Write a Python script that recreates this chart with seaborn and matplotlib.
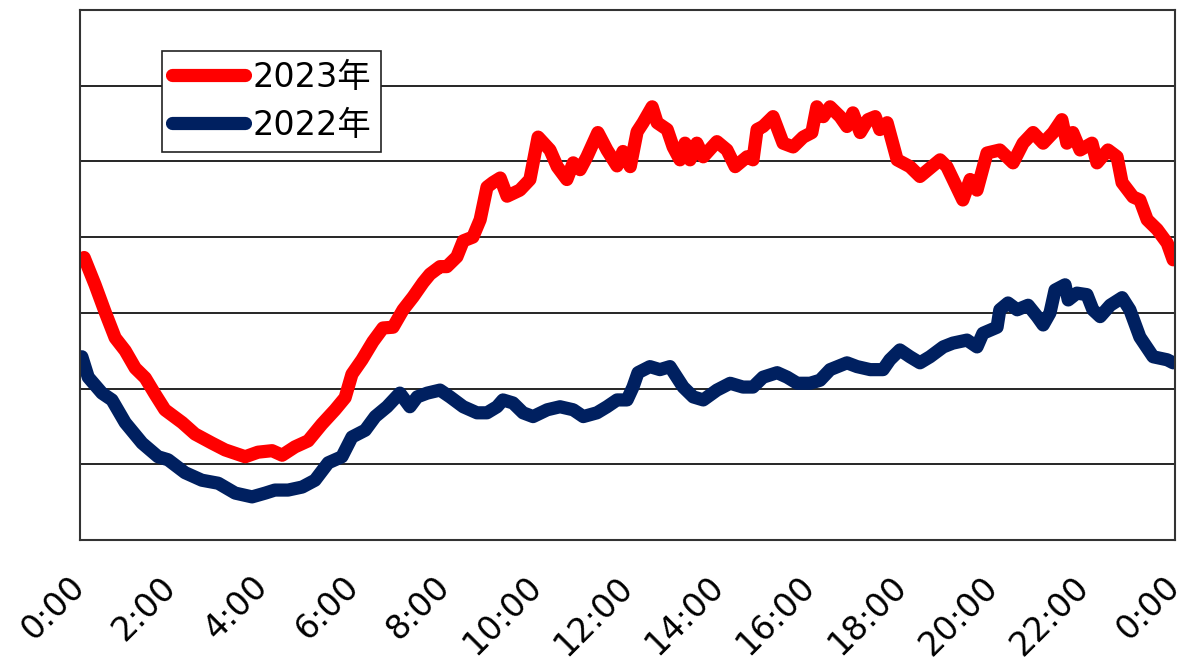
import pandas as pd
import numpy as np
import matplotlib
matplotlib.use('Agg')
import matplotlib.pyplot as plt
import seaborn as sns

# time of day in hours, values in grid units (gridlines every 1.0, no y labels in the source)
hours_2023 = [0.09, 0.33, 0.55, 0.77, 0.99, 1.21, 1.43, 1.64, 1.86, 2.24, 2.52, 2.89, 3.18, 3.62,
              3.90, 4.21, 4.43, 4.71, 5.00, 5.30, 5.59, 5.81, 5.96, 6.18, 6.42, 6.64, 6.86, 7.08,
              7.30, 7.52, 7.67, 7.89, 8.04, 8.26, 8.40, 8.61, 8.77, 8.92, 9.05, 9.21, 9.36, 9.64,
              9.86, 10.04, 10.30, 10.46, 10.67, 10.81, 10.96, 11.11, 11.35, 11.55, 11.77, 11.90,
              12.06, 12.21, 12.34, 12.54, 12.65, 12.87, 13.00, 13.15, 13.26, 13.37, 13.52, 13.66,
              13.96, 14.18, 14.36, 14.62, 14.75, 14.84, 14.97, 15.19, 15.41, 15.63, 15.85, 16.04,
              16.15, 16.29, 16.44, 16.66, 16.81, 16.94, 17.10, 17.27, 17.43, 17.53, 17.69, 17.91,
              18.19, 18.41, 18.85, 19.00, 19.35, 19.51, 19.66, 19.88, 20.16, 20.45, 20.67, 20.89,
              21.11, 21.33, 21.52, 21.63, 21.76, 21.92, 22.18, 22.29, 22.53, 22.73, 22.84, 23.08,
              23.23, 23.39, 23.61, 23.83, 23.96]
vals_2023 = [3.73, 3.37, 3.01, 2.67, 2.50, 2.27, 2.14, 1.93, 1.72, 1.55, 1.40, 1.28, 1.19, 1.10,
             1.16, 1.18, 1.12, 1.23, 1.31, 1.53, 1.72, 1.88, 2.19, 2.38, 2.62, 2.80, 2.81, 3.04,
             3.21, 3.40, 3.51, 3.61, 3.61, 3.74, 3.95, 4.00, 4.23, 4.66, 4.72, 4.78, 4.54, 4.62,
             4.76, 5.32, 5.15, 4.93, 4.76, 4.98, 4.89, 5.06, 5.38, 5.15, 4.94, 5.13,
             4.93, 5.39, 5.51, 5.72, 5.51, 5.42, 5.19, 5.02, 5.24, 5.02, 5.24, 5.06,
             5.26, 5.15, 4.93, 5.06, 5.02, 5.42, 5.46, 5.59, 5.24, 5.19, 5.32, 5.38,
             5.72, 5.59, 5.72, 5.59, 5.46, 5.64, 5.38, 5.55, 5.59, 5.42, 5.51, 5.02,
             4.93, 4.80, 5.02, 4.93, 4.49, 4.76, 4.62, 5.11, 5.15, 4.98, 5.24, 5.38,
             5.24, 5.38, 5.55, 5.24, 5.38, 5.15, 5.24, 4.98, 5.15, 5.06, 4.72, 4.53,
             4.49, 4.23, 4.10, 3.92, 3.70]

hours_2022 = [0.04, 0.18, 0.48, 0.70, 0.99, 1.36, 1.71, 1.93, 2.30, 2.67, 3.03, 3.40, 3.77, 4.06,
              4.27, 4.56, 4.87, 5.15, 5.44, 5.74, 5.96, 6.25, 6.47, 6.73, 7.01, 7.23, 7.39, 7.61,
              7.89, 8.11, 8.40, 8.70, 8.92, 9.14, 9.27, 9.49, 9.71, 9.93, 10.24, 10.52, 10.81,
              11.03, 11.33, 11.55, 11.77, 11.99, 12.12, 12.23, 12.49, 12.71, 12.93, 13.22, 13.44,
              13.66, 13.96, 14.25, 14.53, 14.75, 14.97, 15.28, 15.50, 15.72, 16.00, 16.22, 16.44,
              16.81, 17.03, 17.32, 17.60, 17.75, 17.97, 18.19, 18.41, 18.63, 18.92, 19.13, 19.44,
              19.66, 19.79, 20.10, 20.16, 20.34, 20.54, 20.78, 20.98, 21.11, 21.26, 21.37, 21.59,
              21.66, 21.85, 22.07, 22.20, 22.36, 22.58, 22.84, 23.01, 23.23, 23.52, 23.83, 23.96]
vals_2022 = [2.42, 2.15, 1.94, 1.85, 1.55, 1.28, 1.10, 1.06, 0.89, 0.79, 0.75, 0.62, 0.57, 0.62,
             0.66, 0.66, 0.70, 0.79, 1.02, 1.10, 1.36, 1.45, 1.63, 1.76, 1.94, 1.76, 1.89, 1.94,
             1.98, 1.89, 1.76, 1.68, 1.68, 1.76, 1.85, 1.81, 1.68, 1.63, 1.72, 1.76, 1.72,
             1.63, 1.68, 1.76, 1.85, 1.85, 2.02, 2.21, 2.29, 2.25, 2.29, 2.02, 1.89,
             1.85, 1.98, 2.07, 2.02, 2.02, 2.15, 2.21, 2.15, 2.07, 2.07, 2.11, 2.25,
             2.34, 2.29, 2.25, 2.25, 2.38, 2.51, 2.42, 2.34, 2.42, 2.55, 2.60, 2.64,
             2.55, 2.73, 2.81, 3.04, 3.13, 3.04, 3.10, 2.95, 2.84, 3.00, 3.30, 3.37,
             3.17, 3.26, 3.24, 3.04, 2.95, 3.10, 3.20, 3.04, 2.68, 2.42, 2.38, 2.34]

tick_hours = [0, 2, 4, 6, 8, 10, 12, 14, 16, 18, 20, 22, 24]
tick_labels = ['0:00', '2:00', '4:00', '6:00', '8:00', '10:00', '12:00', '14:00',
               '16:00', '18:00', '20:00', '22:00', '0:00']

df = pd.concat([
    pd.DataFrame({'hour': hours_2023, 'val': vals_2023, 'year': '2023年'}),
    pd.DataFrame({'hour': hours_2022, 'val': vals_2022, 'year': '2022年'}),
])

sns.set_style('white')
plt.rcParams['font.family'] = ['DejaVu Sans', 'Noto Sans CJK JP']

fig = plt.figure(figsize=(11.84, 6.57), dpi=100)
ax = fig.add_axes([0.0676, 0.178, 0.9248, 0.807])

sns.lineplot(data=df, x='hour', y='val', hue='year', estimator=None, sort=True,
             palette={'2023年': '#ff0000', '2022年': '#002060'},
             linewidth=9.5, ax=ax, solid_capstyle='round', solid_joinstyle='round')

ax.set_xlim(0, 24)
ax.set_ylim(0, 7)
ax.set_yticks([1, 2, 3, 4, 5, 6])
ax.set_yticklabels([])
ax.yaxis.grid(True, color='black', linewidth=1.2)
ax.set_axisbelow(True)
ax.tick_params(axis='both', length=0)
ax.set_xticks(tick_hours)
ax.set_xticklabels(tick_labels, rotation=45, ha='right', va='center',
                   rotation_mode='anchor', fontsize=24, color='black')
ax.tick_params(axis='x', pad=30)
ax.set_xlabel('')
ax.set_ylabel('')
for s in ax.spines.values():
    s.set_color('#333333')
    s.set_linewidth(1.5)

leg = ax.legend(loc='upper left', bbox_to_anchor=(0.0749, 0.9226), borderaxespad=0,
                fontsize=24, handlelength=2.2, handletextpad=0.2, labelspacing=0.45,
                borderpad=0.3, fancybox=False, framealpha=1, edgecolor='#222222')
leg.get_frame().set_linewidth(1.2)
for t in leg.get_texts():
    t.set_color('black')
for h in leg.get_lines():
    h.set_linewidth(9.5)
    h.set_solid_capstyle('round')

fig.savefig('out.png', dpi=100)
